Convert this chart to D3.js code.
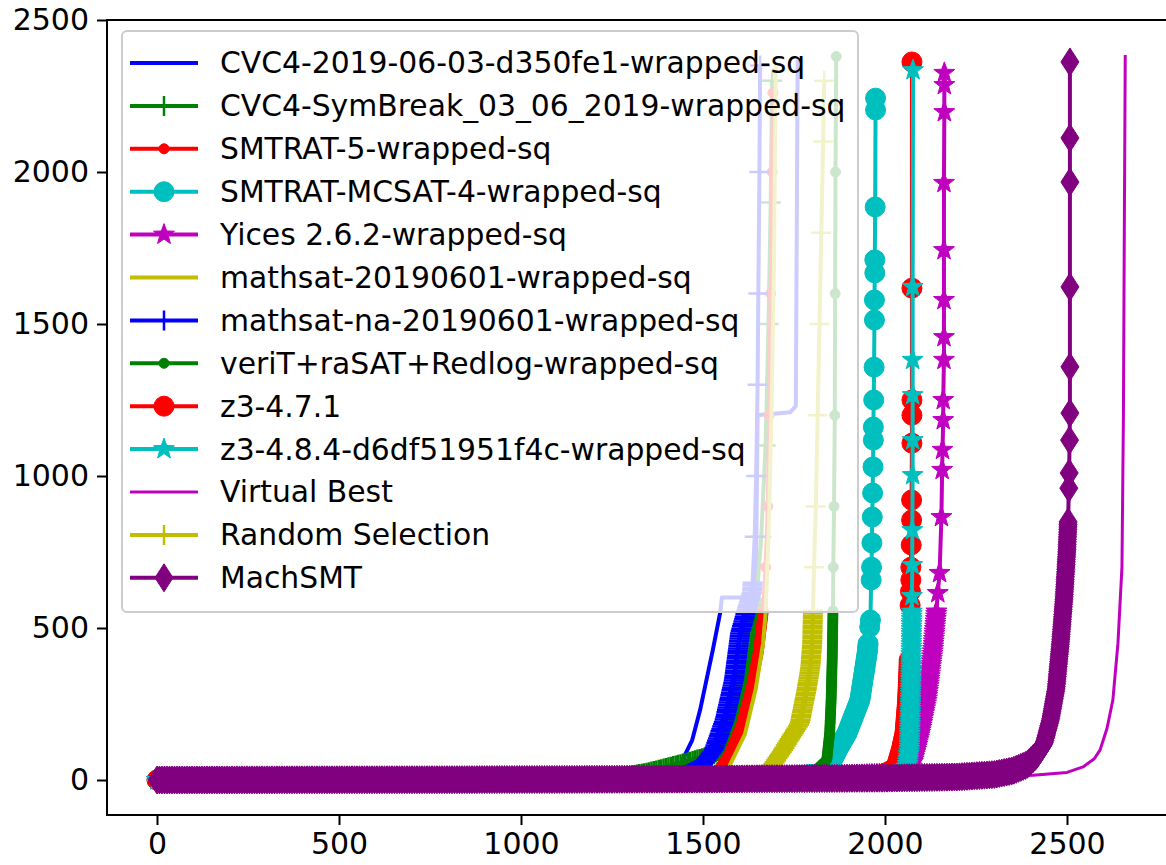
<!DOCTYPE html>
<html>
<head>
<meta charset="utf-8">
<script src="https://cdn.jsdelivr.net/npm/d3@7"></script>
<style>
body { margin: 0; background: #fff; }
text { font-family: "DejaVu Sans", sans-serif; fill: #000; }
</style>
</head>
<body>
<svg id="chart" width="1166" height="865"></svg>
<script>
// solver names, same order as the legend
var names = [
  "CVC4-2019-06-03-d350fe1-wrapped-sq",
  "CVC4-SymBreak_03_06_2019-wrapped-sq",
  "SMTRAT-5-wrapped-sq",
  "SMTRAT-MCSAT-4-wrapped-sq",
  "Yices 2.6.2-wrapped-sq",
  "mathsat-20190601-wrapped-sq",
  "mathsat-na-20190601-wrapped-sq",
  "veriT+raSAT+Redlog-wrapped-sq",
  "z3-4.7.1",
  "z3-4.8.4-d6df51951f4c-wrapped-sq",
  "Virtual Best",
  "Random Selection",
  "MachSMT"
];
var colors  = ["#0000ff","#008000","#ff0000","#00bfbf","#bf00bf","#bfbf00","#0000ff","#008000","#ff0000","#00bfbf","#bf00bf","#bfbf00","#800080"];
var markers = ["none","plus","point","circle","star","none","plus","point","circle","star","none","plus","thindiamond"];
// markers get dense (one per instance) below this time
var denseY  = [0, 600, 560, 450, 560, 0, 650, 560, 400, 560, 0, 560, 850];

var xTicks = [0, 500, 1000, 1500, 2000, 2500];
var yTicks = [0, 500, 1000, 1500, 2000, 2500];

// [instances solved, time]
var cvc4 = [[0,0],[1200,3],[1350,10],[1437,50],[1470,130],[1492,230],[1527,428],[1547,549],[1552,600],[1645,600],[1650,1200],[1740,1210],[1755,1230],[1760,2370]];
var symbreak = [[0,0],[1000,3],[1250,8],[1291,12],[1350,25],[1409,43],[1470,62],[1527,82],[1560,115],[1590,190],[1615,300],[1632,420],[1642,516],[1660,800],[1672,1100],[1680,1500],[1686,1900],[1690,2300]];
var smtrat5 = [[0,0],[1000,3],[1480,10],[1540,30],[1570,80],[1605,180],[1632,300],[1652,420],[1665,549],[1672,700],[1678,900],[1682,1200],[1686,1600],[1690,2000],[1692,2260]];
var mcsat = [[0,0],[1000,3],[1700,8],[1820,20],[1849,50],[1870,100],[1896,155],[1931,263],[1951,418],[1958,503],[1960,526],[1962,658],[1963,700],[1964,780],[1965,865],[1966,944],[1967,1030],[1968,1118],[1968,1161],[1969,1250],[1970,1358],[1971,1513],[1971,1579],[1972,1668],[1972,1711],[1973,1885],[1974,2204],[1974,2243]];
var yices = [[0,0],[1000,4],[1800,10],[2000,20],[2060,35],[2077,60],[2096,150],[2115,263],[2132,430],[2140,536],[2145,615],[2150,681],[2155,865],[2157,1020],[2158,1086],[2160,1184],[2160,1250],[2162,1382],[2162,1457],[2162,1579],[2162,1743],[2162,1964],[2163,2197],[2163,2286],[2163,2326]];
var mathsat = [[0,0],[1000,3],[1520,10],[1570,40],[1615,150],[1645,300],[1665,450],[1672,549],[1680,800],[1688,1200],[1695,1700],[1700,2350]];
var mathsatNa = [[0,0],[1000,3],[1440,10],[1492,40],[1530,100],[1560,200],[1585,330],[1602,483],[1620,560],[1635,620],[1642,800],[1646,1000],[1650,1300],[1652,1600],[1655,2000],[1657,2350]];
var verit = [[0,0],[1000,3],[1700,8],[1800,20],[1840,66],[1848,155],[1852,263],[1855,400],[1857,549],[1858,700],[1860,900],[1862,1200],[1863,1600],[1864,2000],[1866,2380]];
var z3old = [[0,0],[1000,3],[1800,8],[1990,15],[2030,40],[2045,100],[2055,155],[2062,260],[2066,372],[2069,575],[2070,620],[2071,658],[2071,700],[2072,773],[2073,855],[2073,921],[2074,1108],[2074,1200],[2074,1250],[2074,1618],[2074,2362]];
var z3new = [[0,0],[1000,3],[1800,8],[2020,15],[2060,30],[2067,100],[2071,300],[2073,500],[2074,605],[2075,707],[2075,822],[2076,1003],[2076,1118],[2076,1266],[2076,1382],[2076,1622],[2077,2335]];
var virtualBest = [[0,0],[1000,3],[2000,8],[2300,12],[2407,16],[2500,25],[2544,43],[2575,70],[2591,99],[2610,170],[2626,263],[2640,450],[2651,700],[2655,1200],[2657,1700],[2660,2385]];
var randomSel = [[0,0],[1000,3],[1600,8],[1680,20],[1692,50],[1720,99],[1766,187],[1785,300],[1795,372],[1800,450],[1802,549],[1805,700],[1810,900],[1815,1200],[1820,1500],[1825,1800],[1830,2100],[1833,2300]];
var machsmt = [[0,0],[800,1],[1500,3],[2000,6],[2200,10],[2300,18],[2350,30],[2390,50],[2415,80],[2437,120],[2455,200],[2470,300],[2482,450],[2492,600],[2500,760],[2503,845],[2505,960],[2506,1010],[2507,1118],[2508,1207],[2508,1359],[2508,1622],[2508,1967],[2508,2112],[2508,2362]];

var allSeries = [cvc4, symbreak, smtrat5, mcsat, yices, mathsat, mathsatNa, verit, z3old, z3new, virtualBest, randomSel, machsmt];

var svg = d3.select("#chart");
var plotL = 107, plotT = 20, plotR = 1170, plotB = 815;

// 0 sits at x=157, 500 per 182px ; 0 at y=780, 500 per 152px
var x = d3.scaleLinear().domain([(plotL-157)/0.364, (plotR-157)/0.364]).range([plotL, plotR]);
var y = d3.scaleLinear().domain([(780-plotB)/0.304, 2500]).range([plotB, plotT]);

svg.append("clipPath").attr("id", "plotclip")
  .append("rect").attr("x", plotL).attr("y", plotT).attr("width", plotR-plotL).attr("height", plotB-plotT);

// marker shapes
function markerPath(kind) {
  if (kind == "circle") return d3.symbol(d3.symbolCircle, Math.PI*10*10)();
  if (kind == "point") return d3.symbol(d3.symbolCircle, Math.PI*5*5)();
  if (kind == "plus") return "M-10,0H10M0,-10V10";
  if (kind == "thindiamond") return "M0,-14L9,0L0,14L-9,0Z";
  if (kind == "star") {
    var p = [];
    for (var k = 0; k < 10; k++) {
      var r = k % 2 == 0 ? 11 : 4.5;
      var a = -Math.PI/2 + k*Math.PI/5;
      p.push([r*Math.cos(a), r*Math.sin(a)]);
    }
    return "M" + p.map(function(d){ return d[0].toFixed(2) + "," + d[1].toFixed(2); }).join("L") + "Z";
  }
  return null;
}

function drawMarker(g, kind, color, px, py) {
  var m = g.append("path").attr("d", markerPath(kind))
    .attr("transform", "translate(" + px + "," + py + ")");
  if (kind == "plus") m.attr("fill", "none").attr("stroke", color).attr("stroke-width", 2.5);
  else m.attr("fill", color).attr("stroke", color).attr("stroke-width", 1);
}

var line = d3.line().x(function(d){ return x(d[0]); }).y(function(d){ return y(d[1]); });

var plot = svg.append("g").attr("clip-path", "url(#plotclip)");

allSeries.forEach(function(pts, i) {
  var g = plot.append("g");
  var lw = (i == 10) ? 3 : 4;
  var path = g.append("path").datum(pts)
    .attr("d", line)
    .attr("fill", "none")
    .attr("stroke", colors[i])
    .attr("stroke-width", lw)
    .attr("stroke-linejoin", "round");
  if (markers[i] == "none") return;
  // one marker per instance where the curve is crowded
  var node = path.node();
  var len = node.getTotalLength();
  var yLim = y(denseY[i]);
  for (var s = 0; s <= len; s += 2.5) {
    var pt = node.getPointAtLength(s);
    if (pt.y >= yLim) drawMarker(g, markers[i], colors[i], pt.x, pt.y);
  }
  pts.forEach(function(d) {
    if (d[1] > denseY[i]) drawMarker(g, markers[i], colors[i], x(d[0]), y(d[1]));
  });
});

// axes
var xAxis = svg.append("g").attr("transform", "translate(0," + plotB + ")")
  .call(d3.axisBottom(x).tickValues(xTicks).tickFormat(d3.format("d")).tickSize(10).tickPadding(8));
var yAxis = svg.append("g").attr("transform", "translate(" + plotL + ",0)")
  .call(d3.axisLeft(y).tickValues(yTicks).tickFormat(d3.format("d")).tickSize(10).tickPadding(8));
[xAxis, yAxis].forEach(function(a) {
  a.selectAll(".domain").remove();
  a.selectAll("line").attr("stroke", "#000").attr("stroke-width", 2);
  a.selectAll("text").style("font-family", "DejaVu Sans").style("font-size", "30px").attr("fill", "#222");
});
// spines
svg.append("rect").attr("x", plotL).attr("y", plotT).attr("width", plotR-plotL).attr("height", plotB-plotT)
  .attr("fill", "none").attr("stroke", "#000").attr("stroke-width", 2);

// legend
var lg = svg.append("g");
lg.append("rect").attr("x", 122).attr("y", 31).attr("width", 736).attr("height", 581)
  .attr("rx", 5).attr("fill", "#fff").attr("fill-opacity", 0.8)
  .attr("stroke", "#cccccc").attr("stroke-width", 2);
names.forEach(function(n, i) {
  var cy = 63 + i*42.9;
  lg.append("line").attr("x1", 130).attr("x2", 198).attr("y1", cy).attr("y2", cy)
    .attr("stroke", colors[i]).attr("stroke-width", i == 10 ? 3 : 4);
  if (markers[i] != "none") drawMarker(lg, markers[i], colors[i], 164, cy);
  lg.append("text").attr("x", 220).attr("y", cy).attr("dy", "0.35em")
    .style("font-size", "29.8px").attr("fill", "#222").text(n);
});
</script>
</body>
</html>
